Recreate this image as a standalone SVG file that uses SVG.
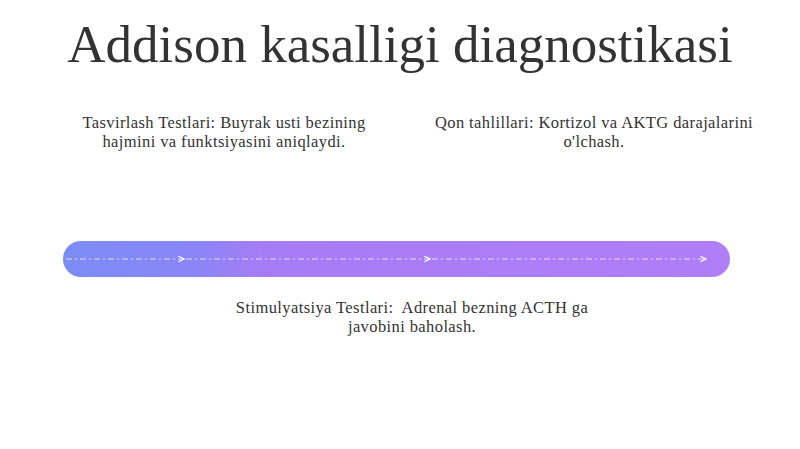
<svg xmlns="http://www.w3.org/2000/svg" width="800" height="449" viewBox="0 0 800 449">
<style>
.t{font-family:"Liberation Serif","DejaVu Serif",serif;fill:#333;text-anchor:middle}
.lbl{font-size:16.5px;letter-spacing:0.4px}
.title{font-size:53px}
.flow{stroke:#ffffff;stroke-opacity:0.75;stroke-width:1.2;fill:none;stroke-dasharray:6 3 2 3}
</style>
<defs>
<linearGradient id="g" x1="0" y1="0" x2="1" y2="0">
<stop offset="0" stop-color="#7b8cf4"/>
<stop offset="0.2" stop-color="#8a86f5"/>
<stop offset="0.3" stop-color="#a67cf6"/>
<stop offset="1" stop-color="#b07ef7"/>
</linearGradient>
<marker id="ar" viewBox="0 0 10 10" refX="9" refY="5" markerWidth="7" markerHeight="7" orient="auto" markerUnits="userSpaceOnUse">
<path d="M1,1 L9,5 L1,9" fill="none" stroke="#fff" stroke-width="1.6"/>
</marker>
</defs>
<rect width="800" height="449" fill="#fff"/>
<text class="t title" x="400" y="62">Addison kasalligi diagnostikasi</text>
<g id="bar">
<rect x="63" y="241" width="667" height="36" rx="18" fill="url(#g)"/>
</g>
<g id="connectors">
<line class="flow" x1="66" y1="259" x2="184" y2="259" marker-end="url(#ar)"/>
<line class="flow" x1="186" y1="259" x2="430" y2="259" marker-end="url(#ar)"/>
<line class="flow" x1="432" y1="259" x2="706" y2="259" marker-end="url(#ar)"/>
</g>
<g id="node-tasvir">
<text class="t lbl" x="224" y="127.5">Tasvirlash Testlari: Buyrak usti bezining</text>
<text class="t lbl" x="224" y="146.5">hajmini va funktsiyasini aniqlaydi.</text>
</g>
<g id="node-qon">
<text class="t lbl" x="594" y="127.5">Qon tahlillari: Kortizol va AKTG darajalarini</text>
<text class="t lbl" x="594" y="146.5">o'lchash.</text>
</g>
<g id="node-stim">
<text class="t lbl" x="412" y="312.5" xml:space="preserve">Stimulyatsiya Testlari:  Adrenal bezning ACTH ga</text>
<text class="t lbl" x="412" y="331.5">javobini baholash.</text>
</g>
</svg>
